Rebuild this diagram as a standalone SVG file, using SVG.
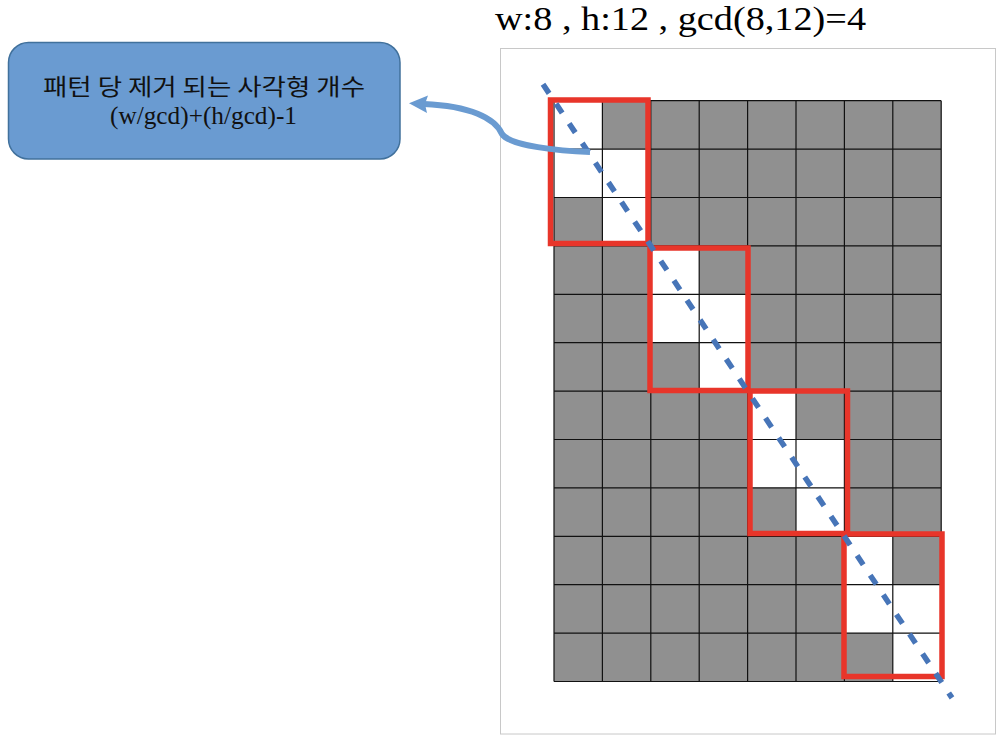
<svg xmlns="http://www.w3.org/2000/svg" width="1000" height="742" viewBox="0 0 1000 742">
<style>
.cellw{fill:#ffffff}
.grid{fill:none;stroke:#111111;stroke-width:1.2}
.pat{fill:none;stroke:#E8352A;stroke-width:5.5}
.diag{fill:none;stroke:#4775B8;stroke-width:5.5;stroke-dasharray:11 12.6}
.conn{fill:none;stroke:#6A9BD1;stroke-width:6}
.title{font-family:"Liberation Serif","Times New Roman",serif;font-size:34px;fill:#000}
.ko{font-family:"Noto Sans CJK KR","Noto Sans",sans-serif;font-size:23px;fill:#111}
.formula{font-family:"Liberation Serif","Times New Roman",serif;font-size:26px;fill:#111}
</style>
<rect width="1000" height="742" fill="#ffffff"/>
<g id="frame"><rect x="500.5" y="48.5" width="495" height="685.5" fill="#ffffff" stroke="#C8C8C8" stroke-width="1"/></g>
<g id="title"><text class="title" x="495" y="30" textLength="371" lengthAdjust="spacingAndGlyphs">w:8 , h:12 , gcd(8,12)=4</text></g>
<g id="grid">
<rect x="554" y="100.7" width="387.2" height="580.8" fill="#909090"/>
<rect class="cellw" x="554" y="100.7" width="48.4" height="48.4"/>
<rect class="cellw" x="554" y="149.1" width="48.4" height="48.4"/>
<rect class="cellw" x="602.4" y="149.1" width="48.4" height="48.4"/>
<rect class="cellw" x="602.4" y="197.5" width="48.4" height="48.4"/>
<rect class="cellw" x="650.8" y="245.9" width="48.4" height="48.4"/>
<rect class="cellw" x="650.8" y="294.3" width="48.4" height="48.4"/>
<rect class="cellw" x="699.2" y="294.3" width="48.4" height="48.4"/>
<rect class="cellw" x="699.2" y="342.7" width="48.4" height="48.4"/>
<rect class="cellw" x="747.6" y="391.1" width="48.4" height="48.4"/>
<rect class="cellw" x="747.6" y="439.5" width="48.4" height="48.4"/>
<rect class="cellw" x="796" y="439.5" width="48.4" height="48.4"/>
<rect class="cellw" x="796" y="487.9" width="48.4" height="48.4"/>
<rect class="cellw" x="844.4" y="536.3" width="48.4" height="48.4"/>
<rect class="cellw" x="844.4" y="584.7" width="48.4" height="48.4"/>
<rect class="cellw" x="892.8" y="584.7" width="48.4" height="48.4"/>
<rect class="cellw" x="892.8" y="633.1" width="48.4" height="48.4"/>
<path class="grid" d="M554,100.7V681.5M602.4,100.7V681.5M650.8,100.7V681.5M699.2,100.7V681.5M747.6,100.7V681.5M796,100.7V681.5M844.4,100.7V681.5M892.8,100.7V681.5M941.2,100.7V681.5
M554,100.7H941.2M554,149.1H941.2M554,197.5H941.2M554,245.9H941.2M554,294.3H941.2M554,342.7H941.2M554,391.1H941.2M554,439.5H941.2M554,487.9H941.2M554,536.3H941.2M554,584.7H941.2M554,633.1H941.2M554,681.5H941.2"/>
</g>
<g id="patterns">
<rect class="pat" x="550.5" y="100" width="97.5" height="143.5"/>
<rect class="pat" x="650" y="248" width="98" height="142.5"/>
<rect class="pat" x="750" y="391" width="97.5" height="142.5"/>
<rect class="pat" x="844" y="534" width="98" height="142.5"/>
</g>
<g id="diagonal"><line class="diag" x1="543" y1="84.2" x2="952" y2="697.9"/></g>
<g id="callout">
<rect x="8.5" y="42.5" width="391.5" height="116.5" rx="20" ry="20" fill="#6A9BD1" stroke="#41719C" stroke-width="1.5"/>
<text class="ko" x="204" y="95" text-anchor="middle" textLength="322" lengthAdjust="spacingAndGlyphs">패턴 당 제거 되는 사각형 개수</text>
<text class="formula" x="203.5" y="123.5" text-anchor="middle" textLength="187" lengthAdjust="spacingAndGlyphs">(w/gcd)+(h/gcd)-1</text>
</g>
<g id="connectors">
<path class="conn" d="M590,152 C560,151 510,146 502,134 C495,118 470,106 424,104"/>
<polygon points="409,103.3 428,95.5 425,104 427,113" fill="#6A9BD1"/>
</g>
</svg>
